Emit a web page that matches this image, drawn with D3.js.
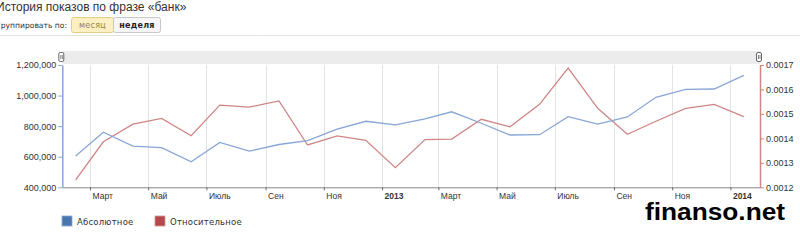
<!DOCTYPE html>
<html>
<head>
<meta charset="utf-8">
<script src="https://cdn.jsdelivr.net/npm/d3@7"></script>
<style>
  html, body { margin: 0; padding: 0; background: #fff; overflow: hidden; }
  svg { display: block; font-family: "DejaVu Sans", Verdana, sans-serif; }
</style>
</head>
<body>
<svg id="chart" width="800" height="240"></svg>
<script>
// monthly points, placed mid-month
var months = ['2012-02', '2012-03', '2012-04', '2012-05', '2012-06', '2012-07', '2012-08', '2012-09',
  '2012-10', '2012-11', '2012-12', '2013-01', '2013-02', '2013-03', '2013-04', '2013-05',
  '2013-06', '2013-07', '2013-08', '2013-09', '2013-10', '2013-11', '2013-12', '2014-01'];

var absolute = [605000, 760000, 670000, 659000, 567000, 694000, 637000, 680000,
  705000, 781000, 832000, 809000, 847000, 894000, 819000, 742000,
  744000, 862000, 814000, 860000, 989000, 1041000, 1043000, 1132000];

var relative = [0.00123, 0.001386, 0.001458, 0.001482, 0.001411, 0.001536, 0.001528, 0.001553,
  0.001373, 0.00141, 0.001392, 0.00128, 0.001395, 0.001397, 0.001478, 0.001447,
  0.001539, 0.001687, 0.001523, 0.001417, 0.00147, 0.001523, 0.001539, 0.001489];

var tickMonths = ['2012-03', '2012-05', '2012-07', '2012-09', '2012-11', '2013-01',
  '2013-03', '2013-05', '2013-07', '2013-09', '2013-11', '2014-01'];
var tickLabels = ['Март', 'Май', 'Июль', 'Сен', 'Ноя', '2013',
  'Март', 'Май', 'Июль', 'Сен', 'Ноя', '2014'];

var absTicks = [400000, 600000, 800000, 1000000, 1200000];
var relTicks = [0.0012, 0.0013, 0.0014, 0.0015, 0.0016, 0.0017];

var seriesNames = ['Абсолютное', 'Относительное'];

var opts = {
  left: 62.3,
  right: 760,
  top: 65,
  bottom: 187.3,
  blue: '#87a6d6',
  red: '#d08585',
  blueKey: '#4a76b0',
  redKey: '#b54848'
};

var parseMonth = d3.timeParse('%Y-%m');
var mid = function(m) { return d3.timeDay.offset(parseMonth(m), 14); };

var svg = d3.select('#chart');

var x = d3.scaleTime()
  .domain([parseMonth('2012-02'), parseMonth('2014-02')])
  .range([opts.left, opts.right]);
var yAbs = d3.scaleLinear().domain([400000, 1200000]).range([opts.bottom, opts.top]);
var yRel = d3.scaleLinear().domain([0.0012, 0.0017]).range([opts.bottom, opts.top]);

// header
svg.append('text')
  .attr('x', -4)
  .attr('y', 11)
  .attr('font-family', '"Liberation Sans", Arial, sans-serif')
  .attr('font-size', 12)
  .attr('fill', '#333')
  .text('История показов по фразе «банк»');

// the first letter is clipped by the window edge, as in the screenshot
svg.append('text')
  .attr('x', 67)
  .attr('y', 28)
  .attr('text-anchor', 'end')
  .attr('font-size', 7.6)
  .attr('fill', '#333')
  .text('Группировать по:');

var buttons = [
  {label: 'месяц', x: 71, w: 42, fill: '#fcefc2', stroke: '#e2cd88', color: '#97844f', weight: 'normal'},
  {label: 'неделя', x: 113, w: 47, fill: '#f6f6f6', stroke: '#c8c8c8', color: '#222', weight: 'bold'}
];
var btn = svg.selectAll('g.btn')
  .data(buttons)
  .enter()
  .append('g')
  .attr('class', 'btn');
btn.append('rect')
  .attr('x', function(d) { return d.x + 0.5; })
  .attr('y', 17.5)
  .attr('width', function(d) { return d.w; })
  .attr('height', 15)
  .attr('rx', 2)
  .attr('fill', function(d) { return d.fill; })
  .attr('stroke', function(d) { return d.stroke; });
btn.append('text')
  .attr('x', function(d) { return d.x + d.w / 2 + 0.5; })
  .attr('y', 28)
  .attr('text-anchor', 'middle')
  .attr('font-size', 8)
  .attr('letter-spacing', 0.3)
  .attr('font-weight', function(d) { return d.weight; })
  .attr('fill', function(d) { return d.color; })
  .text(function(d) { return d.label; });

svg.append('line')
  .attr('x1', 0).attr('x2', 800)
  .attr('y1', 35.5).attr('y2', 35.5)
  .attr('stroke', '#e2e2e2');

// scroller band on top of the plot
svg.append('rect')
  .attr('x', opts.left)
  .attr('y', 51)
  .attr('width', opts.right - opts.left)
  .attr('height', 13)
  .attr('fill', '#ececec');

var handles = svg.selectAll('g.handle')
  .data([opts.left - 1, opts.right - 1])
  .enter()
  .append('g')
  .attr('class', 'handle')
  .attr('transform', function(d) { return 'translate(' + d + ',52)'; });
handles.append('rect')
  .attr('x', -2.5).attr('y', 0.5)
  .attr('width', 5).attr('height', 9)
  .attr('rx', 1.5)
  .attr('fill', '#fff')
  .attr('stroke', '#666');
handles.append('line')
  .attr('x1', -0.5).attr('x2', -0.5)
  .attr('y1', 3).attr('y2', 7)
  .attr('stroke', '#888');
handles.append('line')
  .attr('x1', 1).attr('x2', 1)
  .attr('y1', 3).attr('y2', 7)
  .attr('stroke', '#888');

// vertical grid
var tickDates = tickMonths.map(parseMonth);
svg.append('g')
  .selectAll('line')
  .data(tickDates)
  .enter()
  .append('line')
  .attr('x1', function(d) { return Math.round(x(d)) + 0.5; })
  .attr('x2', function(d) { return Math.round(x(d)) + 0.5; })
  .attr('y1', opts.top)
  .attr('y2', opts.bottom)
  .attr('stroke', '#e3e3e3');

// x axis
var xAxis = svg.append('g')
  .attr('transform', 'translate(0,' + opts.bottom + ')')
  .call(d3.axisBottom(x)
    .tickValues(tickDates)
    .tickFormat(function(d, i) { return tickLabels[i]; })
    .tickSize(3)
    .tickSizeOuter(0));
xAxis.select('.domain').attr('stroke', '#888');
xAxis.selectAll('.tick line').attr('stroke', '#666');
xAxis.selectAll('.tick text')
  .attr('text-anchor', 'start')
  .attr('x', 2)
  .attr('y', 6)
  .attr('font-size', 8.5)
  .attr('fill', '#333')
  .attr('font-weight', function(d, i) { return /^\d+$/.test(tickLabels[i]) ? 'bold' : 'normal'; });

// left axis
var leftAxis = svg.append('g')
  .attr('transform', 'translate(' + opts.left + ',0)')
  .call(d3.axisLeft(yAbs)
    .tickValues(absTicks)
    .tickFormat(d3.format(','))
    .tickSize(4)
    .tickSizeOuter(0));
leftAxis.select('.domain').attr('stroke', opts.blue).attr('stroke-width', 1.5);
leftAxis.selectAll('.tick line').attr('stroke', opts.blue);
leftAxis.selectAll('.tick text')
  .attr('x', -6)
  .attr('font-size', 9)
  .attr('fill', '#333');

// right axis
var rightAxis = svg.append('g')
  .attr('transform', 'translate(' + opts.right + ',0)')
  .call(d3.axisRight(yRel)
    .tickValues(relTicks)
    .tickFormat(d3.format('.4f'))
    .tickSize(4)
    .tickSizeOuter(0));
rightAxis.select('.domain').attr('stroke', opts.red).attr('stroke-width', 1.5);
rightAxis.selectAll('.tick line').attr('stroke', opts.red);
rightAxis.selectAll('.tick text')
  .attr('x', 6)
  .attr('font-size', 9)
  .attr('fill', '#333');

// series
var absLine = d3.line()
  .x(function(d, i) { return x(mid(months[i])); })
  .y(function(d) { return yAbs(d); });
var relLine = d3.line()
  .x(function(d, i) { return x(mid(months[i])); })
  .y(function(d) { return yRel(d); });

svg.append('path')
  .datum(relative)
  .attr('d', relLine)
  .attr('fill', 'none')
  .attr('stroke', opts.red)
  .attr('stroke-width', 1.3);
svg.append('path')
  .datum(absolute)
  .attr('d', absLine)
  .attr('fill', 'none')
  .attr('stroke', opts.blue)
  .attr('stroke-width', 1.3);

// legend
var legend = svg.selectAll('g.legend')
  .data(seriesNames)
  .enter()
  .append('g')
  .attr('class', 'legend')
  .attr('transform', function(d, i) { return 'translate(' + (62 + i * 93) + ',216)'; });
legend.append('rect')
  .attr('width', 10)
  .attr('height', 10)
  .attr('fill', function(d, i) { return i ? opts.redKey : opts.blueKey; })
  .attr('stroke', function(d, i) { return i ? '#d59a9a' : '#8aa8d4'; })
  .attr('stroke-width', 0.8);
legend.append('text')
  .attr('x', 15)
  .attr('y', 8.5)
  .attr('font-size', 8.5)
  .attr('letter-spacing', 0.2)
  .attr('fill', '#333')
  .text(function(d) { return d; });

// watermark
svg.append('text')
  .attr('x', 645)
  .attr('y', 220)
  .attr('font-family', '"Liberation Sans", Arial, sans-serif')
  .attr('font-weight', 'bold')
  .attr('font-size', 23)
  .attr('textLength', 140)
  .attr('lengthAdjust', 'spacingAndGlyphs')
  .attr('fill', '#000')
  .text('finanso.net');
</script>
</body>
</html>
